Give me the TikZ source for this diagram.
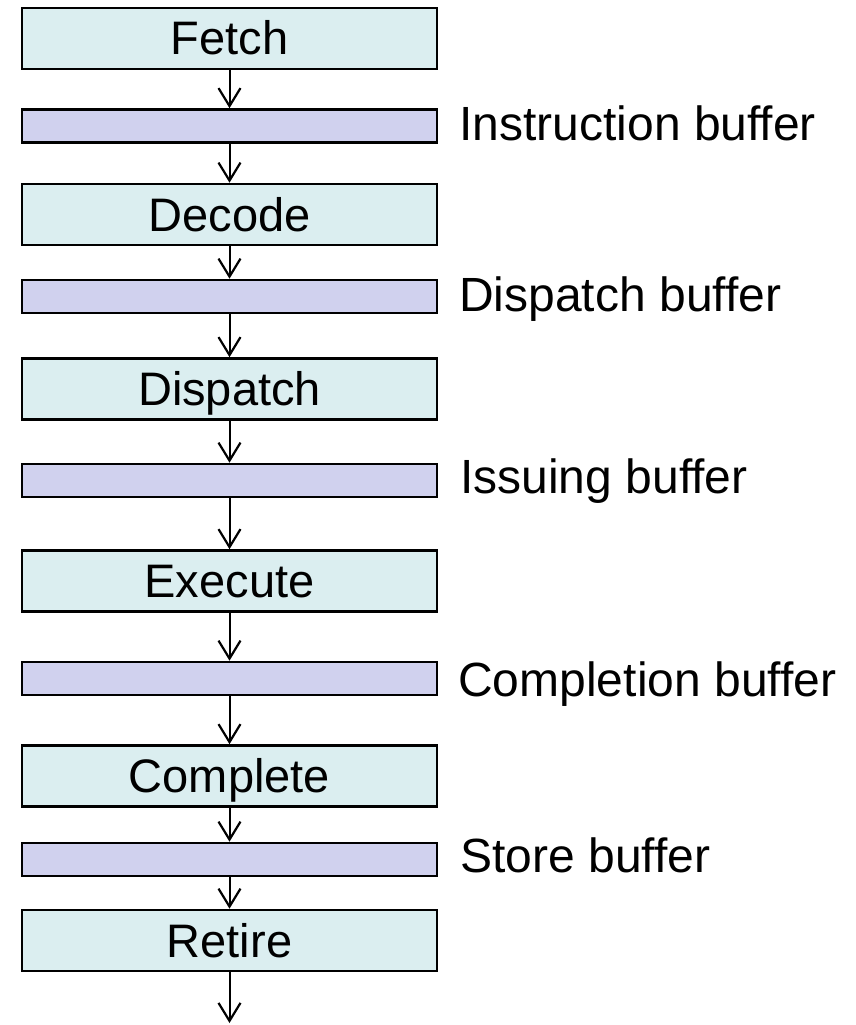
\documentclass[tikz,border=0pt]{standalone}
\usepackage{fontspec}
\setmainfont{Liberation Sans}
\usetikzlibrary{positioning,arrows.meta}
\definecolor{stagefill}{RGB}{219,238,240}
\definecolor{buffill}{RGB}{208,209,238}

\begin{document}
\begin{tikzpicture}[x=1pt, y=-1pt, line width=2pt,
    stage/.style={draw, line width=2.6pt, fill=stagefill, minimum width=415pt, minimum height=61pt,
      inner sep=0pt, font=\fontsize{47}{56}\selectfont, text height=33pt, text depth=0pt},
    buf/.style={draw, line width=2.6pt, fill=buffill, minimum width=415pt, minimum height=33pt, inner sep=0pt},
    buflabel/.style={anchor=west, inner sep=0pt, font=\fontsize{48}{58}\selectfont,
      text height=34pt, text depth=0pt},
    flow/.style={-{Straight Barb[length=18pt, width=22pt, line width=2.2pt]}}]
  \useasboundingbox (0,0) rectangle (855,1025);

  \node (fetch) [stage] at (229.5,38.5) {Fetch};
  \node (ib) [buf] at (229.5,126) {};
  \node (decode) [stage] at (229.5,214.5) {Decode};
  \node (db) [buf] at (229.5,296.5) {};
  \node (dispatch) [stage] at (229.5,389) {Dispatch};
  \node (isb) [buf] at (229.5,480.5) {};
  \node (execute) [stage] at (229.5,581) {Execute};
  \node (cb) [buf] at (229.5,678.5) {};
  \node (complete) [stage] at (229.5,776) {Complete};
  \node (sb) [buf] at (229.5,859.5) {};
  \node (retire) [stage] at (229.5,940.5) {Retire};
  \coordinate (out) at (229.5,1023);

  % Buffer names
  \node [buflabel, right=20pt of ib, yshift=3pt] {Instruction buffer};
  \node [buflabel, right=20pt of db, yshift=2pt] {Dispatch buffer};
  \node [buflabel, right=21pt of isb, yshift=4pt] {Issuing buffer};
  \node [buflabel, right=19pt of cb, yshift=-1pt] {Completion buffer};
  \node [buflabel, right=21pt of sb, yshift=4pt] {Store buffer};

  % Pipeline arrows
  \draw[flow] (fetch) -- (ib);
  \draw[flow] (ib) -- (decode);
  \draw[flow] (decode) -- (db);
  \draw[flow] (db) -- (dispatch);
  \draw[flow] (dispatch) -- (isb);
  \draw[flow] (isb) -- (execute);
  \draw[flow] (execute) -- (cb);
  \draw[flow] (cb) -- (complete);
  \draw[flow] (complete) -- (sb);
  \draw[flow] (sb) -- (retire);
  \draw[flow] (retire) -- (out);
\end{tikzpicture}
\end{document}
